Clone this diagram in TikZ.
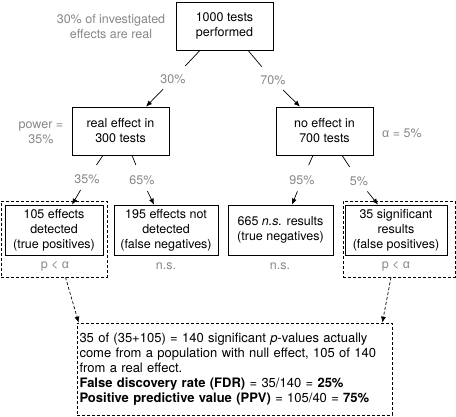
\documentclass[tikz,border=0pt]{standalone}
\usepackage{fontspec}
\setmainfont{TeX Gyre Heros}
\newfontfamily\alfont{Liberation Sans}
\usetikzlibrary{arrows.meta,calc}
\newcommand\myfs{\fontsize{12.5}{15}\selectfont}
\newcommand\myfsb{\fontsize{13}{15}\selectfont}
\newcommand\alp{{\alfont α}}
\definecolor{lgray}{RGB}{135,135,135}
\begin{document}
\begin{tikzpicture}[x=1pt,y=-1pt,
  box/.style={draw, line width=0.7pt, align=center, inner sep=0pt, font=\myfs},
  lab/.style={text=lgray, font=\myfs, inner sep=1pt, align=center},
  dbox/.style={draw, line width=0.7pt, dash pattern=on 3pt off 2pt},
  seg/.style={line width=0.7pt, shorten >=10pt},
  arr/.style={line width=0.7pt, shorten <=6pt, -{Latex[length=6pt,width=5pt]}},
  darr/.style={line width=0.7pt, dash pattern=on 3pt off 2pt, -{Latex[length=6pt,width=5pt]}}]
\useasboundingbox (0,0) rectangle (456,417);
% dashed groups
\node[dbox, minimum width=106pt, minimum height=76pt, inner sep=0pt] (d1) at (54,239) {};
\node[dbox, minimum width=112pt, minimum height=76pt, inner sep=0pt] (d4) at (399,239) {};
% boxes
\node[box, minimum width=97pt, minimum height=48pt] (top) at (224.5,26) {1000 tests\\performed};
\node[box, minimum width=97pt, minimum height=48pt] (real) at (120.5,131) {real effect in\\300 tests};
\node[box, minimum width=97pt, minimum height=48pt] (no) at (324.5,131) {no effect in\\700 tests};
\node[box, fill=white, minimum width=98pt, minimum height=50pt] (b1) at (54,230) {105 effects\\detected\\(true positives)};
\node[box, minimum width=104pt, minimum height=50pt] (b2) at (166,230) {195 effects not\\detected\\(false negatives)};
\node[box, minimum width=105pt, minimum height=50pt] (b3) at (280.5,230) {665 \textit{n.s.} results\\(true negatives)};
\node[box, fill=white, minimum width=102pt, minimum height=50pt] (b4) at (396,230) {35 significant\\results\\(false positives)};
% side labels
\node[lab] (note) at (111,27) {30\% of investigated\\effects are real};
\node[lab] (pow) at (41,133) {power =\\35\%};
\node[lab] (alpha) at (402,133) {\alp{} = 5\%};
\node[lab] (s1) at (55,266) {p < \alp};
\node[lab] (s2) at (166,266) {n.s.};
\node[lab] (s3) at (280,266) {n.s.};
\node[lab] (s4) at (396,266) {p < \alp};
% percent labels
\node[lab] (l30) at (173,79) {30\%};
\node[lab] (l70) at (273,80) {70\%};
\node[lab] (l35) at (87,179) {35\%};
\node[lab] (l65) at (142,180) {65\%};
\node[lab] (l95) at (302,180) {95\%};
\node[lab] (l5) at (359,181) {5\%};
% connectors
\draw[seg] ($(top.south)+(-24.5,0)$) -- (l30);
\draw[arr] (l30) -- ($(real.north)+(25.5,0)$);
\draw[seg] ($(top.south)+(23.5,0)$) -- (l70);
\draw[arr] (l70) -- ($(no.north)+(-24.5,0)$);
\draw[seg] ($(real.south)+(-17.5,0)$) -- (l35);
\draw[arr] (l35) -- ($(b1.north)+(18,0)$);
\draw[seg] ($(real.south)+(11.5,0)$) -- (l65);
\draw[arr] (l65) -- ($(b2.north)+(-12,0)$);
\draw[seg] ($(no.south)+(-11.5,0)$) -- (l95);
\draw[arr] (l95) -- ($(b3.north)+(11.5,0)$);
\draw[seg] ($(no.south)+(17.5,0)$) -- (l5);
\draw[arr] (l5) -- ($(b4.north)+(-18,0)$);
% bottom box
\node[dbox, font=\myfsb, align=left, text width=310pt, minimum height=92pt, inner xsep=2.5pt, inner ysep=0pt] (res) at (234.5,369)
{35 of (35+105) = 140 significant \textit{p}-values actually\\
come from a population with null effect, 105 of 140\\
from a real effect.\\
\textbf{False discovery rate (FDR)} = 35/140 = \textbf{25\%}\\
\textbf{Positive predictive value (PPV)} = 105/40 = \textbf{75\%}};
\draw[darr] ($(d1.south)+(11.5,0)$) -- ($(res.north west)+(2,0)$);
\draw[darr] ($(d4.south)+(-8,0)$) -- ($(res.north east)+(-10,0)$);
\end{tikzpicture}
\end{document}
